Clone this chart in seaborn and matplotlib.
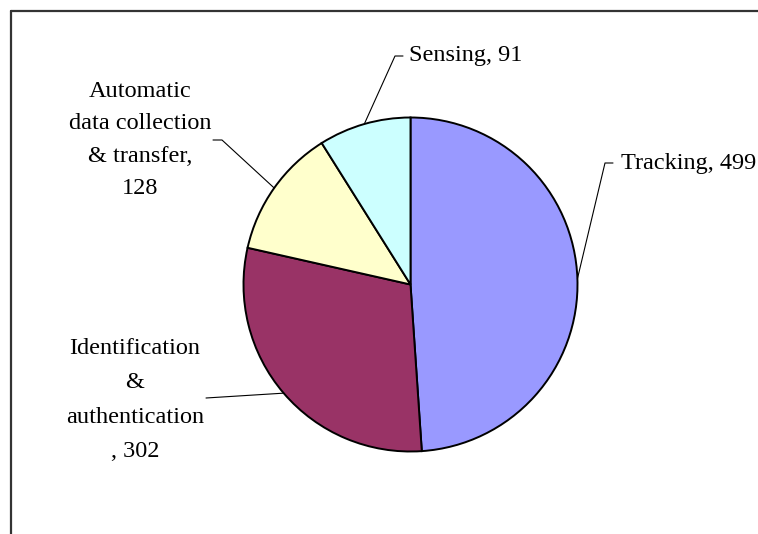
import matplotlib.pyplot as plt
from matplotlib.lines import Line2D
import numpy as np
import seaborn as sns

# Set plot style (font family must come after set_theme)
sns.set_theme(style="white")
plt.rcParams['font.family'] = ['Liberation Serif', 'DejaVu Serif']

# --- Data ---
categories = ["Tracking", "Identification\n&\nauthentication", "Automatic\ndata collection\n& transfer", "Sensing"]
values = [499, 302, 128, 91]
label_fmt = ["{}, {}", "{}\n, {}", "{},\n{}", "{}, {}"]
colors = ["#9999FF", "#993366", "#FFFFCC", "#CCFFFF"]

W, H = 758, 534
CX, CY, R = 410.5, 284.5, 167.0   # pie centre and radius in pixels


def px(x, y):
    """Pixel position (from top-left) -> data coords with pie radius 1."""
    return (x - CX) / R, (CY - y) / R


fig = plt.figure(figsize=(W / 100, H / 100), dpi=100)
ax = fig.add_axes([0, 0, 1, 1])
wedges, _ = ax.pie(values, colors=colors, startangle=90, counterclock=False, radius=1,
                   wedgeprops=dict(edgecolor='black', linewidth=1.4))
ax.set_xlim(-CX / R, (W - CX) / R)
ax.set_ylim(-(H - CY) / R, CY / R)
ax.set_aspect('equal')
ax.axis('off')

# label layout: text anchor (px), alignment, line spacing, leader elbow points (px)
layout = [
    dict(text=(621, 163), ha='left', ls=1.2, elbow=[(605, 163), (613, 163)]),
    dict(text=(135, 400), ha='center', ls=1.85, elbow=[(206, 398)]),
    dict(text=(140, 140), ha='center', ls=1.69, elbow=[(222, 140), (213, 140)]),
    dict(text=(409, 56), ha='left', ls=1.2, elbow=[(395, 56), (403, 56)]),
]

for w, cat, val, fmt, lay in zip(wedges, categories, values, label_fmt, layout):
    mid = np.deg2rad((w.theta1 + w.theta2) / 2)
    edge = (np.cos(mid), np.sin(mid))
    pts = [edge] + [px(*p) for p in lay['elbow']]
    xs, ys = zip(*pts)
    ax.plot(xs, ys, color='black', linewidth=0.8)
    tx, ty = px(*lay['text'])
    ax.text(tx, ty, fmt.format(cat, val), ha=lay['ha'], va='center', multialignment='center',
            fontsize=17.5, linespacing=lay['ls'], color='black')

# outer chart frame (cropped on the right and bottom)
fx, fy = 11 / W, 1 - 11 / H
fig.add_artist(Line2D([fx, fx], [0, fy], transform=fig.transFigure, color='#333333', linewidth=1.6))
fig.add_artist(Line2D([fx, 1], [fy, fy], transform=fig.transFigure, color='#333333', linewidth=1.6))

plt.savefig("out.png", dpi=100)
plt.close()
